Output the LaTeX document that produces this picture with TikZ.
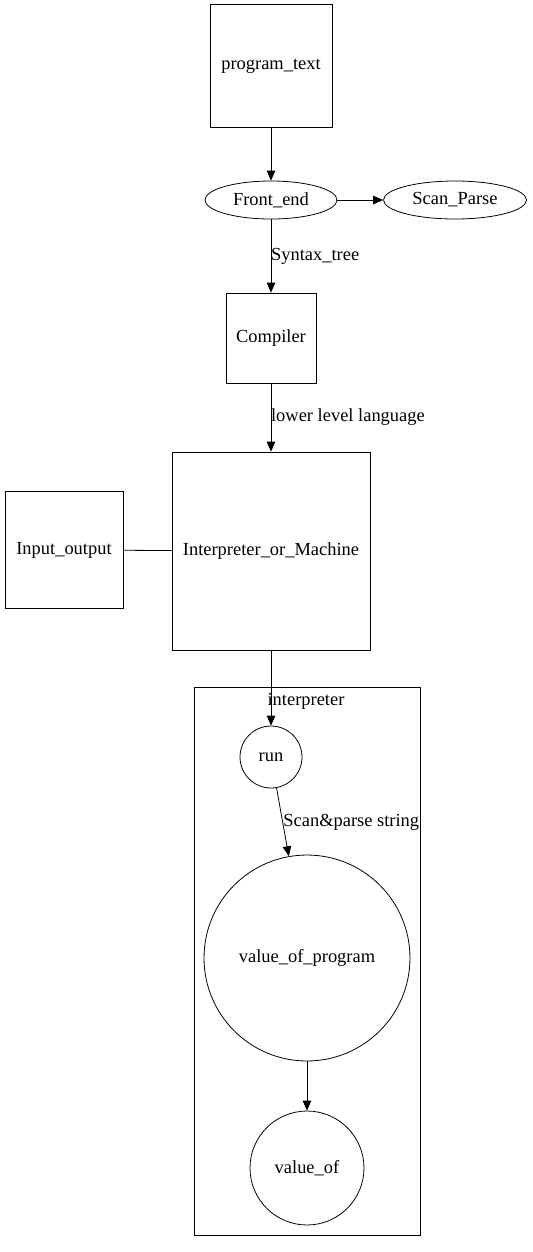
\documentclass[tikz,border=0pt]{standalone}
\usepackage{fontspec}
\setmainfont{Liberation Serif}
\usetikzlibrary{positioning,arrows.meta,shapes.geometric}

\tikzset{
  box/.style={draw, rectangle, inner sep=0pt},
  oval/.style={draw, ellipse, inner sep=0pt},
  ring/.style={draw, circle, inner sep=0pt},
  edge/.style={-{Triangle[length=0.2cm,width=0.17cm]}},
}

\begin{document}
\begin{tikzpicture}[x=0.02cm, y=-0.02cm, font=\fontsize{10.5}{12.6}\selectfont, line width=0.45pt]
  \useasboundingbox (0,0) rectangle (533,1252);
  % cluster
  \draw (194,687) rectangle (420,1235);
  \node (clabel) at (306,701) {interpreter};
  % nodes
  \node[box, minimum width=2.44cm, minimum height=2.46cm] (program) at (271,66) {program\_text};
  \node[oval, minimum width=2.64cm, minimum height=0.76cm] (front) at (271,200) {Front\_end};
  \node[oval, minimum width=2.86cm, minimum height=0.76cm] (scan) at (455,200) {Scan\_Parse};
  \node[box, minimum width=1.8cm, minimum height=1.8cm] (compiler) at (271,338) {Compiler};
  \node[box, minimum width=3.96cm, minimum height=3.96cm] (machine) at (271,551) {Interpreter\_or\_Machine};
  \node[box, minimum width=2.36cm, minimum height=2.34cm] (io) at (64,550) {Input\_output};
  \node[ring, minimum size=1.24cm] (run) at (271,757) {run};
  \node[ring, minimum size=4.12cm] (vprog) at (307,958) {value\_of\_program};
  \node[ring, minimum size=2.28cm] (vof) at (307,1168) {value\_of};
  % edges
  \draw[edge] (program) -- (front);
  \draw[edge] (front) -- (scan);
  \draw[edge] (front) -- node[right=-3.5pt] {Syntax\_tree} (compiler);
  \draw[edge] (compiler) -- node[right=-3.5pt] {lower level language} (machine);
  \draw (io) -- (machine);
  \draw[edge] (machine) -- (run);
  \draw[edge] (run) -- (vprog);
  \node[anchor=west, inner sep=0pt] (slabel) at (283,822) {Scan\&parse string};
  \draw[edge] (vprog) -- (vof);
\end{tikzpicture}
\end{document}
